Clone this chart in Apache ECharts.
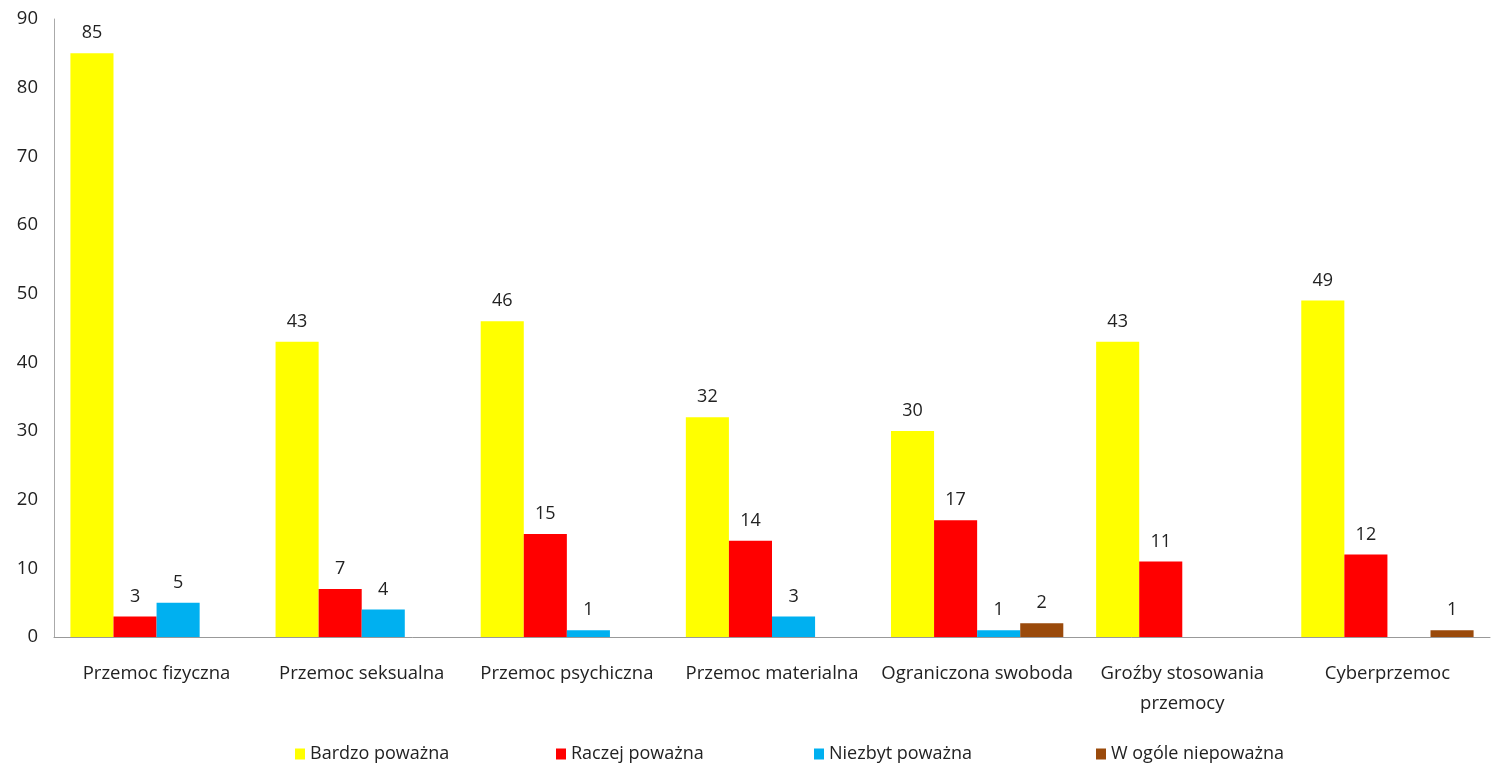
<!DOCTYPE html>
<html><head><meta charset="utf-8">
<script src="https://cdn.jsdelivr.net/npm/echarts@6/dist/echarts.min.js"></script>
<style>html,body{margin:0;padding:0;background:#fff}#c{width:1496px;height:767px}</style>
</head><body><div id="c"></div>
<script>
const categories = ['Przemoc fizyczna','Przemoc seksualna','Przemoc psychiczna','Przemoc materialna','Ograniczona swoboda','Groźby stosowania\nprzemocy','Cyberprzemoc'];
const seriesNames = ['Bardzo poważna','Raczej poważna','Niezbyt poważna','W ogóle niepoważna'];
const bardzo = [85,43,46,32,30,43,49];
const raczej = [3,7,15,14,17,11,12];
const niezbyt = [5,4,1,3,1,null,null];
const wOgole = [null,null,null,null,2,null,1];
const colors = ['#FFFF00','#FF0000','#00B0F0','#9A4A0B'];
const legendLeft = [290, 551, 809, 1091];
const FONT = '"Open Sans", "Noto Sans", sans-serif';
const chart = echarts.init(document.getElementById('c'));
const mk = (name, data, color) => ({
  name, type:'bar', data, barGap:0, barCategoryGap:'16%',
  itemStyle:{color},
  label:{show:true, position:'top', distance:11, color:'#222', fontSize:18, fontFamily:FONT,
    formatter: p => (p.value==null ? '' : p.value)}
});
chart.setOption({
  animation:false,
  textStyle:{fontFamily:FONT},
  grid:{left:54, right:6, top:19, bottom:130, containLabel:false},
  legend: seriesNames.map((n,i) => ({
    top:740, left:legendLeft[i], itemWidth:10, itemHeight:11, icon:'rect',
    textStyle:{fontSize:18, color:'#222', fontFamily:FONT}, data:[n]
  })),
  xAxis:{type:'category', data:categories,
    axisLine:{lineStyle:{color:'#999'}}, axisTick:{show:false},
    axisLabel:{fontSize:18.5, color:'#222', margin:22, lineHeight:30, interval:0, fontFamily:FONT}},
  yAxis:{type:'value', min:0, max:90, interval:10,
    axisLine:{show:true, lineStyle:{color:'#aaa'}}, axisTick:{show:false},
    splitLine:{show:false},
    axisLabel:{fontSize:18.5, color:'#222', margin:16, fontFamily:FONT}},
  series:[mk(seriesNames[0],bardzo,colors[0]), mk(seriesNames[1],raczej,colors[1]), mk(seriesNames[2],niezbyt,colors[2]), mk(seriesNames[3],wOgole,colors[3])]
});
</script></body></html>
